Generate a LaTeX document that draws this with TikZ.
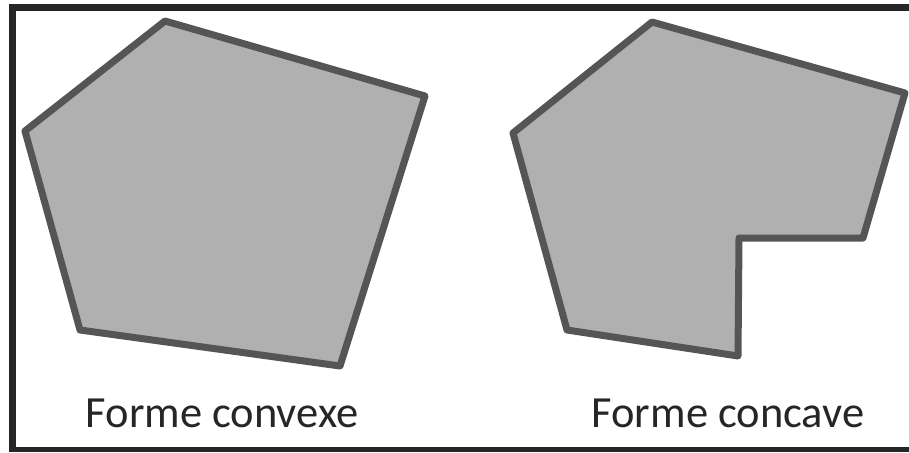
\documentclass[tikz,border=0pt]{standalone}
\usepackage{fontspec}
\setmainfont{Carlito}
\definecolor{shapefill}{HTML}{B0B0B0}
\definecolor{shapeedge}{HTML}{555555}
\definecolor{framecol}{HTML}{262626}
\begin{document}
\begin{tikzpicture}[x=1pt,y=-1pt,
  polyshape/.style={fill=shapefill,draw=shapeedge,line width=7pt,line join=round},
  captiontext/.style={anchor=base,inner sep=0pt,font=\fontsize{44.5}{52}\selectfont,text=black!85}]
\useasboundingbox (0,0) rectangle (909,452);
\fill[white] (0,0) rectangle (909,452);
% frame
\fill[framecol] (9,4) rectangle (909,11);
\fill[framecol] (9,4) rectangle (16,452);
\fill[framecol] (9,447) rectangle (909,452);
% convex shape
\draw[polyshape] (165,21) -- (425,96) -- (340,366) -- (80,330) -- (25,131) -- cycle;
% concave shape
\draw[polyshape] (652,22) -- (905,93) -- (863,238) -- (739,238) -- (738,356) -- (567,330) -- (513,133) -- cycle;
\node[captiontext] (convex) at (222,427) {Forme convexe};
\node[captiontext] (concave) at (728,427) {Forme concave};
\end{tikzpicture}
\end{document}
